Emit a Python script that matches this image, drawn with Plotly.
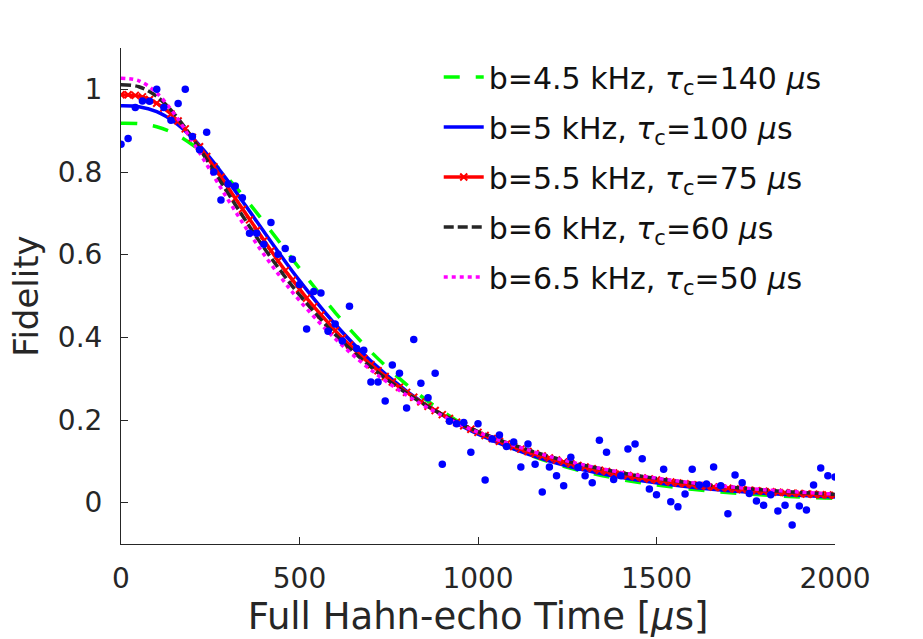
import plotly.graph_objects as go

# ---------------- data ----------------
t_data = [0, 20, 40, 60, 80, 100, 120, 140, 160, 180, 200, 220, 240, 260, 280, 300, 320, 340, 360, 380,
          400, 420, 440, 460, 480, 500, 520, 540, 560, 580, 600, 620, 640, 660, 680, 700, 720, 740, 760, 780,
          800, 820, 840, 860, 880, 900, 920, 940, 960, 980, 1000, 1020, 1040, 1060, 1080, 1100, 1120, 1140, 1160, 1180,
          1200, 1220, 1240, 1260, 1280, 1300, 1320, 1340, 1360, 1380, 1400, 1420, 1440, 1460, 1480, 1500, 1520, 1540, 1560, 1580,
          1600, 1620, 1640, 1660, 1680, 1700, 1720, 1740, 1760, 1780, 1800, 1820, 1840, 1860, 1880, 1900, 1920, 1940, 1960, 1980,
          2000]
fid_data = [0.867, 0.881, 0.956, 0.972, 0.971, 1.000, 0.956, 0.925, 0.966, 1.000,
            0.886, 0.854, 0.896, 0.800, 0.732, 0.771, 0.766, 0.738, 0.652, 0.652,
            0.625, 0.678, 0.601, 0.615, 0.589, 0.528, 0.420, 0.511, 0.507, 0.415,
            0.432, 0.391, 0.475, 0.373, 0.369, 0.292, 0.292, 0.246, 0.333, 0.313,
            0.229, 0.395, 0.289, 0.254, 0.313, 0.093, 0.197, 0.191, 0.194, 0.122,
            0.191, 0.055, 0.154, 0.164, 0.136, 0.147, 0.086, 0.142, 0.093, 0.026,
            0.086, 0.065, 0.041, 0.110, 0.085, 0.065, 0.048, 0.151, 0.122, 0.056,
            0.065, 0.130, 0.142, 0.106, 0.033, 0.019, 0.081, 0.002, -0.010, 0.021,
            0.081, 0.043, 0.045, 0.086, 0.041, -0.027, 0.067, 0.048, 0.022, 0.004,
            -0.006, 0.019, -0.020, -0.006, -0.054, -0.008, -0.018, 0.043, 0.084, 0.065,
            0.062]

# fitted curves
t_fit = [0, 50, 100, 150, 200, 250, 300, 350, 400, 450, 500, 600, 700, 800, 900, 1000,
         1200, 1400, 1600, 1800, 2000]
fid_b45 = [0.918, 0.9168, 0.9095, 0.8929, 0.8659, 0.8293, 0.7846, 0.7339, 0.6794, 0.6232, 0.5670,
           0.4600, 0.3653, 0.2857, 0.2210, 0.1696, 0.0984, 0.0564, 0.0322, 0.0183, 0.0104]
fid_b5 = [0.960, 0.9579, 0.9461, 0.9209, 0.8826, 0.8338, 0.7776, 0.7175, 0.6560, 0.5954, 0.5373,
          0.4317, 0.3428, 0.2701, 0.2119, 0.1657, 0.1009, 0.0613, 0.0372, 0.0226, 0.0137]
fid_b6 = [1.011, 1.0063, 0.9831, 0.9398, 0.8820, 0.8164, 0.7483, 0.6812, 0.6172, 0.5575, 0.5025,
          0.4067, 0.3283, 0.2648, 0.2134, 0.1720, 0.1117, 0.0725, 0.0471, 0.0306, 0.0198]
fid_b65 = [1.027, 1.0207, 0.9912, 0.9395, 0.8744, 0.8037, 0.7327, 0.6646, 0.6010, 0.5424, 0.4889,
           0.3965, 0.3212, 0.2601, 0.2106, 0.1705, 0.1118, 0.0732, 0.0480, 0.0315, 0.0206]
fid_b55 = [0.987, 0.9868, 0.9853, 0.9817, 0.9755, 0.9665, 0.9547, 0.9403, 0.9234, 0.9043,
           0.8834, 0.8610, 0.8373, 0.8127, 0.7874, 0.7617, 0.7358, 0.7098, 0.6841, 0.6586,
           0.6335, 0.6088, 0.5847, 0.5613, 0.5384, 0.5163, 0.4949, 0.4742, 0.4542, 0.4349,
           0.4163, 0.3985, 0.3813, 0.3648, 0.3490, 0.3338, 0.3193, 0.3053, 0.2920, 0.2792,
           0.2669, 0.2552, 0.2439, 0.2332, 0.2229, 0.2131, 0.2037, 0.1947, 0.1861, 0.1778,
           0.1700, 0.1624, 0.1553, 0.1484, 0.1418, 0.1355, 0.1295, 0.1238, 0.1183, 0.1131,
           0.1080, 0.1033, 0.0987, 0.0943, 0.0901, 0.0861, 0.0823, 0.0786, 0.0752, 0.0718,
           0.0686, 0.0656, 0.0627, 0.0599, 0.0572, 0.0547, 0.0523, 0.0500, 0.0477, 0.0456,
           0.0436, 0.0417, 0.0398, 0.0381, 0.0364, 0.0348, 0.0332, 0.0317, 0.0303, 0.0290,
           0.0277, 0.0265, 0.0253, 0.0242, 0.0231, 0.0221, 0.0211, 0.0202, 0.0193, 0.0184,
           0.0176]

names = ["b=4.5 kHz, <i>τ</i><sub>c</sub>=140 <i>μ</i>s",
         "b=5 kHz, <i>τ</i><sub>c</sub>=100 <i>μ</i>s",
         "b=5.5 kHz, <i>τ</i><sub>c</sub>=75 <i>μ</i>s",
         "b=6 kHz, <i>τ</i><sub>c</sub>=60 <i>μ</i>s",
         "b=6.5 kHz, <i>τ</i><sub>c</sub>=50 <i>μ</i>s"]

x_ticks = [0, 500, 1000, 1500, 2000]
y_ticks = [0, 0.2, 0.4, 0.6, 0.8, 1]
y_ticklabels = ["0", "0.2", "0.4", "0.6", "0.8", "1"]

FONT = "DejaVu Sans"
AX = "#262626"
LW = 3.5

fig = go.Figure()
fig.add_trace(go.Scatter(x=t_fit, y=fid_b45, mode="lines", name=names[0], legendgroup="g1",
                         line=dict(color="#00ff00", width=LW, dash="16px,16px", shape="spline")))
fig.add_trace(go.Scatter(x=t_fit, y=fid_b5, mode="lines", name=names[1], legendgroup="g2",
                         line=dict(color="#0000ff", width=LW, shape="spline")))
fig.add_trace(go.Scatter(x=t_data, y=fid_b55, mode="lines+markers", name=names[2], legendgroup="g3",
                         line=dict(color="#ff0000", width=LW),
                         marker=dict(symbol="x-thin", size=7, color="#ff0000",
                                     line=dict(color="#ff0000", width=2))))
fig.add_trace(go.Scatter(x=t_fit, y=fid_b6, mode="lines", name=names[3], legendgroup="g4",
                         line=dict(color=AX, width=LW, dash="10px,4px", shape="spline")))
fig.add_trace(go.Scatter(x=t_fit, y=fid_b65, mode="lines", name=names[4], legendgroup="g5",
                         line=dict(color="#ff00ff", width=LW, dash="4px,4px", shape="spline")))
fig.add_trace(go.Scatter(x=t_data, y=fid_data, mode="markers", showlegend=False,
                         marker=dict(color="#0000ff", size=7.5, line=dict(width=0))))

axis_common = dict(showline=True, linecolor=AX, linewidth=1, ticks="inside", ticklen=7,
                   tickcolor=AX, tickwidth=1, showgrid=False, zeroline=False, mirror=False,
                   tickfont=dict(family=FONT, size=28, color=AX))

fig.update_layout(
    width=923, height=639,
    margin=dict(l=121, r=88, t=48, b=95),
    paper_bgcolor="white", plot_bgcolor="white",
    font=dict(family=FONT, color=AX),
    xaxis=dict(range=[0, 2000], tickvals=x_ticks, ticklabelstandoff=9,
               title=dict(text="Full Hahn-echo Time [<i>μ</i>s]", font=dict(family=FONT, size=37, color=AX),
                          standoff=3),
               **axis_common),
    yaxis=dict(range=[-0.1, 1.1], tickvals=y_ticks, ticktext=y_ticklabels, ticklabelstandoff=12,
               title=dict(text="Fidelity", font=dict(family=FONT, size=34, color=AX), standoff=8),
               **axis_common),
    legend=dict(x=0.445, y=0.994, xanchor="left", yanchor="top", bgcolor="rgba(0,0,0,0)",
                font=dict(family=FONT, size=30, color="#111111"), itemwidth=40,
                tracegroupgap=8, traceorder="grouped"),
)

fig.write_html("out.html")
